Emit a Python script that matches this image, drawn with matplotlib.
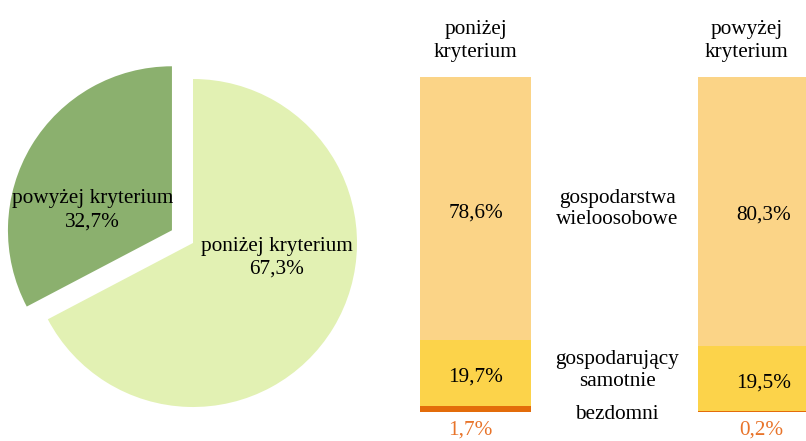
import matplotlib
matplotlib.use("Agg")
import matplotlib.pyplot as plt
import numpy as np

plt.rcParams['font.family'] = ['Liberation Serif', 'DejaVu Serif']

# Data
pie_labels = ["poniżej kryterium", "powyżej kryterium"]
pie_values = [67.3, 32.7]
pie_colors = ["#E2F1B3", "#8BB06E"]

bar_groups = ["poniżej\nkryterium", "powyżej\nkryterium"]
seg_names = ["bezdomni", "gospodarujący\nsamotnie", "gospodarstwa\nwieloosobowe"]
bezdomni = [1.7, 0.2]
samotnie = [19.7, 19.5]
wieloosobowe = [78.6, 80.3]
seg_colors = ["#E36C0A", "#FCD34A", "#FBD487"]
small_color = "#E8742A"

def fmt(v):
    return f"{v:.1f}%".replace(".", ",")

FS = 15.3
W, H = 806, 441
fig = plt.figure(figsize=(W / 100, H / 100), dpi=100)

# ---- Pie ----
cx, cy, half = 193, 441 - 243, 193
axp = fig.add_axes([(cx - half) / W, (cy - half) / H, 2 * half / W, 2 * half / H])
r_px = 164
lim = half / r_px
wedges, _ = axp.pie(pie_values, colors=pie_colors, startangle=90, counterclock=False,
                    explode=[0, 0.15], radius=1.0)
axp.set_xlim(-lim, lim)
axp.set_ylim(-lim, lim)
axp.set_aspect('equal')
axp.axis('off')
label_pos = [(0.51, -0.09), (-0.612, 0.2)]
for lab, v, (x, y) in zip(pie_labels, pie_values, label_pos):
    axp.text(x, y, f"{lab}\n{fmt(v)}", ha='center', va='center', fontsize=FS,
             linespacing=1.3)

# ---- Stacked bars ----
x0_px, x1_px = 420, 806
yb_px, yt_px = 29, 364
spacing_px = 278
bw = 111 / spacing_px
left = -bw / 2
right = left + (x1_px - x0_px) / spacing_px
axb = fig.add_axes([x0_px / W, yb_px / H, (x1_px - x0_px) / W, (yt_px - yb_px) / H])
xpos = np.arange(len(bar_groups))
bottom = np.zeros(len(bar_groups))
for vals, col in zip([bezdomni, samotnie, wieloosobowe], seg_colors):
    axb.bar(xpos, vals, width=bw, bottom=bottom, color=col, edgecolor='none')
    bottom += np.array(vals)
axb.set_xlim(left, right)
axb.set_ylim(0, 100)
axb.axis('off')

xoff = [0, 0.035]
small_off = [-0.02, 0.028]
for i in range(len(bar_groups)):
    b0 = bezdomni[i]
    axb.text(xpos[i] + xoff[i], b0 + samotnie[i] / 2 - 1.2, fmt(samotnie[i]),
             ha='center', va='center', fontsize=FS)
    axb.text(xpos[i] + xoff[i], b0 + samotnie[i] + wieloosobowe[i] / 2 - 1.2, fmt(wieloosobowe[i]),
             ha='center', va='center', fontsize=FS)
    axb.text(xpos[i] + small_off[i], -5.5, fmt(bezdomni[i]), ha='center', va='center',
             fontsize=FS, color=small_color)
    axb.text(xpos[i] - 0.025 * i, 110.8, bar_groups[i], ha='center', va='center',
             fontsize=FS, linespacing=1.25)

mid = 0.509
axb.text(mid, 60.6, seg_names[2], ha='center', va='center', fontsize=FS, linespacing=1.15)
axb.text(mid, 12.4, seg_names[1], ha='center', va='center', fontsize=FS, linespacing=1.25)
axb.text(mid, -0.6, seg_names[0], ha='center', va='center', fontsize=FS)
for a in (axp, axb):
    for t in a.texts:
        t.set_clip_on(False)

fig.savefig("out.png", dpi=100)
